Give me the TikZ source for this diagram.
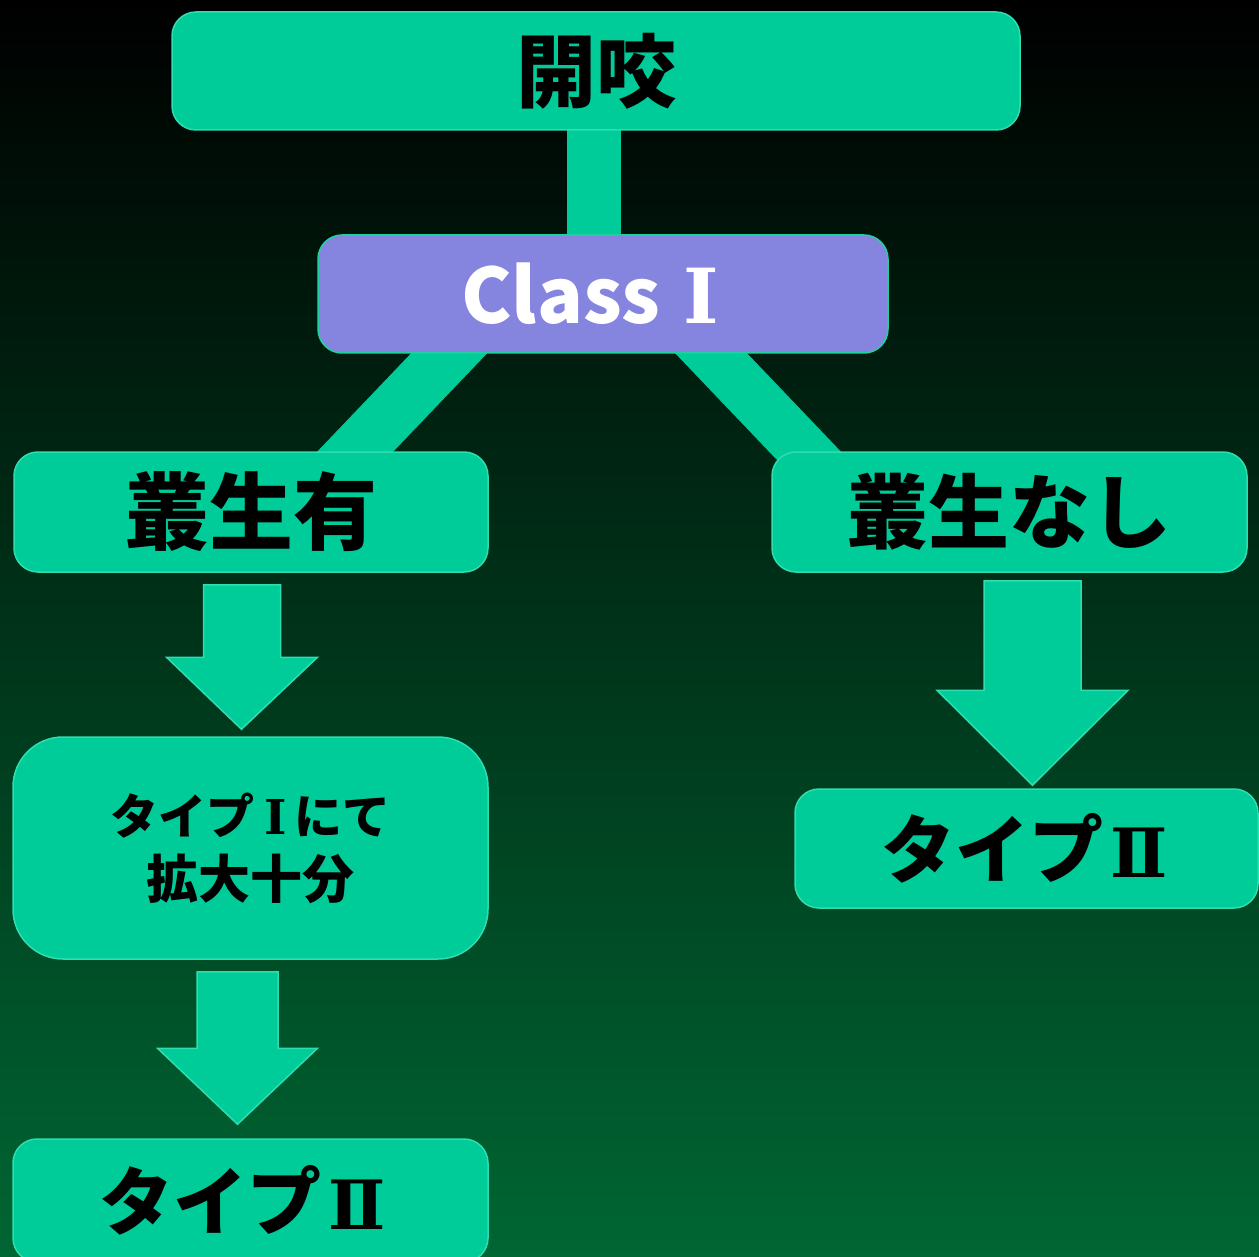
\documentclass[tikz,border=0pt]{standalone}
\usepackage{fontspec}
\setmainfont{Noto Sans CJK JP}
\newfontfamily\romfont{DejaVu Serif}
\usetikzlibrary{calc}
\pgfdeclarelayer{back}
\pgfdeclarelayer{mid}
\pgfsetlayers{back,mid,main}
\definecolor{boxgreen}{HTML}{00CC99}
\definecolor{boxedge}{HTML}{2EDDB0}
\definecolor{classfill}{HTML}{8585E0}
\definecolor{classedge}{HTML}{22CFA0}
\definecolor{bgbot}{HTML}{006633}
\newcommand{\blockarrow}[5]{%
  \fill[blockarr] let \p1=(#1), \p2=(#2) in
    (\x1-#3,\y1) -- (\x1+#3,\y1) -- (\x1+#3,\y2+#5) -- (\x1+#4,\y2+#5)
    -- (\x2,\y2) -- (\x1-#4,\y2+#5) -- (\x1-#3,\y2+#5) -- cycle;}
\newcommand{\romnum}[1]{{\romfont\bfseries #1}}
\begin{document}
\begin{tikzpicture}[x=1pt,y=-1pt,
  gbox/.style={rectangle, rounded corners=24pt, fill=boxgreen, draw=boxedge,
    line width=1.5pt, inner sep=0pt, text=black, font=\bfseries},
  cbox/.style={gbox, fill=classfill, draw=classedge, text=white},
  bar/.style={draw=boxgreen, line width=55pt},
  blockarr/.style={fill=boxgreen, draw=boxedge, line width=1.5pt, line join=miter}]
\useasboundingbox (0,0) rectangle (1259,1257);
\begin{pgfonlayer}{back}
  \shade[top color=black, bottom color=bgbot] (0,0) rectangle (1259,1257);
\end{pgfonlayer}

\node[gbox, minimum width=848pt, minimum height=118pt,
  font=\bfseries\fontsize{80}{80}\selectfont] (top) at (596,71) {開咬};
\node[cbox, minimum width=570pt, minimum height=118pt,
  font=\bfseries\fontsize{76}{76}\selectfont] (class) at (603,294) {Class\hspace{0.3em}\romnum{Ⅰ}\kern26pt};
\node[gbox, minimum width=474pt, minimum height=120pt,
  font=\bfseries\fontsize{84}{84}\selectfont] (l1) at (251,512) {叢生有};
\node[gbox, minimum width=475pt, minimum height=120pt,
  font=\bfseries\fontsize{81}{81}\selectfont] (r1) at (1009.5,512) {叢生なし};
\node[gbox, rounded corners=50pt, minimum width=475pt, minimum height=222pt,
  align=center, font=\bfseries\fontsize{48}{64}\selectfont] (b2) at (250.5,848)
  {タイプ\hspace{0.2em}\romnum{Ⅰ}\hspace{0.15em}にて\\{\fontsize{52}{64}\selectfont 拡大十分}};
\node[gbox, minimum width=475pt, minimum height=123pt,
  font=\bfseries\fontsize{74}{74}\selectfont] (b3) at (250.5,1200.5)
  {タイプ\hspace{0.1em}{\fontsize{68}{68}\selectfont\romnum{Ⅱ}}\kern16pt};
\node[gbox, minimum width=463pt, minimum height=119pt,
  font=\bfseries\fontsize{74}{74}\selectfont] (r2) at (1026.5,848.5)
  {タイプ\hspace{0.1em}{\fontsize{68}{68}\selectfont\romnum{Ⅱ}}\kern4pt};

\begin{pgfonlayer}{mid}
  \draw[bar, line width=54pt] ($(top.south)+(-2,-6)$) -- ($(top.south |- class.north)+(-2,10)$);
  \coordinate (c1a) at ($(class.south west)!0.23!(class.south east)$);
  \coordinate (c1b) at ($(l1.north west)!0.72!(l1.north east)$);
  \draw[bar] ($(c1a)!-0.3!(c1b)$) -- ($(c1b)!-0.3!(c1a)$);
  \coordinate (c2a) at ($(class.south west)!0.69!(class.south east)$);
  \coordinate (c2b) at ($(r1.north west)!0.07!(r1.north east)$);
  \draw[bar, line width=52pt] ($(c2a)!-0.3!(c2b)$) -- ($(c2b)!-0.3!(c2a)$);
\end{pgfonlayer}

\coordinate (a1s) at ($(l1.south)+(-9,12)$);
\coordinate (a1t) at ($(b2.north)+(-9,-7)$);
\blockarrow{a1s}{a1t}{38.5pt}{75.5pt}{72pt}
\coordinate (a2s) at ($(b2.south)+(-13,12)$);
\coordinate (a2t) at ($(b3.north)+(-13,-14)$);
\blockarrow{a2s}{a2t}{40.5pt}{80pt}{76pt}
\coordinate (a3s) at ($(r1.south)+(23,8)$);
\coordinate (a3t) at ($(r2.north)+(6,-3)$);
\blockarrow{a3s}{a3t}{48.5pt}{95.5pt}{95pt}
\end{tikzpicture}
\end{document}
